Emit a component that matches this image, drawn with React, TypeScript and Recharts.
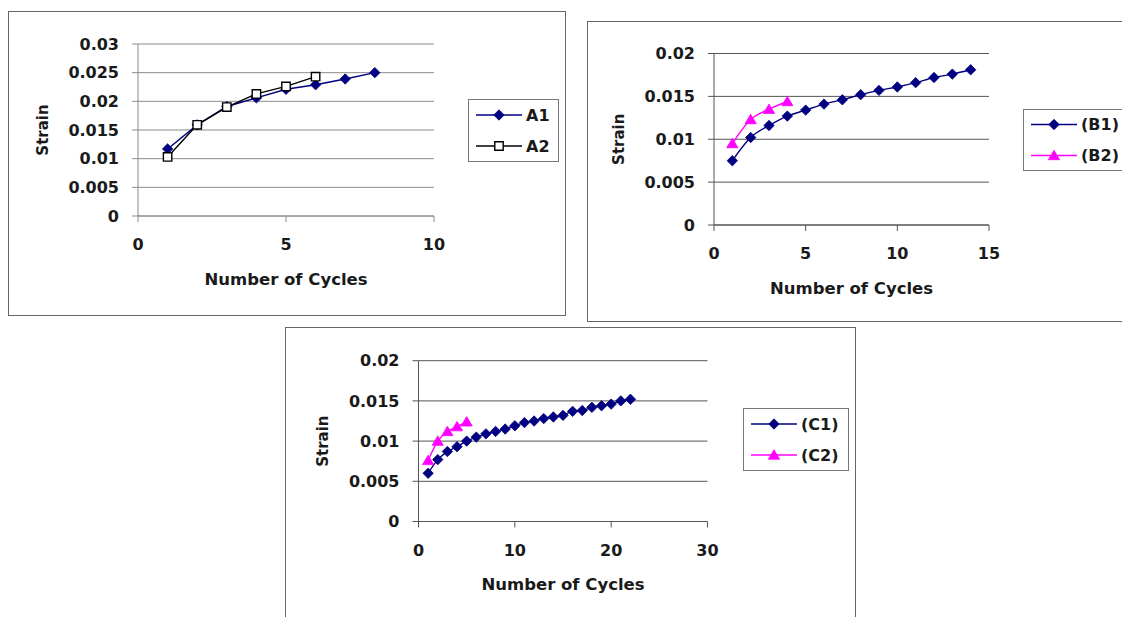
import React from 'react';
import { LineChart, Line, XAxis, YAxis, CartesianGrid, Legend, Label } from 'recharts';

const FONT = '"DejaVu Sans", "Liberation Sans", sans-serif';

// ---------- Chart A ----------
const cyclesA1 = [1, 2, 3, 4, 5, 6, 7, 8];
const strainA1 = [0.0117, 0.0159, 0.0191, 0.0206, 0.0221, 0.0229, 0.0239, 0.025];
const cyclesA2 = [1, 2, 3, 4, 5, 6];
const strainA2 = [0.0103, 0.0159, 0.019, 0.0213, 0.0226, 0.0243];
const xTicksA = [0, 5, 10];
const yTicksA = [0, 0.005, 0.01, 0.015, 0.02, 0.025, 0.03];

// ---------- Chart B ----------
const cyclesB1 = [1, 2, 3, 4, 5, 6, 7, 8, 9, 10, 11, 12, 13, 14];
const strainB1 = [0.0075, 0.0102, 0.0116, 0.0127, 0.0134, 0.0141, 0.0146, 0.0152, 0.0157, 0.0161, 0.0166, 0.0172, 0.0176, 0.0181];
const cyclesB2 = [1, 2, 3, 4];
const strainB2 = [0.0095, 0.0123, 0.0135, 0.0144];
const xTicksB = [0, 5, 10, 15];
const yTicksB = [0, 0.005, 0.01, 0.015, 0.02];

// ---------- Chart C ----------
const cyclesC1 = [1, 2, 3, 4, 5, 6, 7, 8, 9, 10, 11, 12, 13, 14, 15, 16, 17, 18, 19, 20, 21, 22];
const strainC1 = [0.006, 0.0077, 0.0087, 0.0093, 0.01, 0.0105, 0.0109, 0.0112, 0.0115, 0.0119, 0.0123, 0.0125, 0.0128, 0.013, 0.0132, 0.0137, 0.0138, 0.0142, 0.0144, 0.0146, 0.015, 0.0152];
const cyclesC2 = [1, 2, 3, 4, 5];
const strainC2 = [0.0076, 0.01, 0.0112, 0.0118, 0.0124];
const xTicksC = [0, 10, 20, 30];
const yTicksC = [0, 0.005, 0.01, 0.015, 0.02];

const NAVY = '#000080';
const MAGENTA = '#ff00ff';

type MarkerKind = 'diamond' | 'square' | 'triangle';
type Series = { name: string; xs: number[]; ys: number[]; color: string; marker: MarkerKind; curve: 'linear' | 'monotone' };
type Rect = { l: number; t: number; r: number; b: number };
type Cfg = {
  id: string;
  box: Rect;
  plot: Rect;
  xDomain: [number, number];
  xTicks: number[];
  yDomain: [number, number];
  yTicks: number[];
  series: Series[];
  legend: { l: number; t: number; w: number; h: number };
  gridColor: string;
  axisColor: string;
};

const toData = (xs: number[], ys: number[]) => xs.map((x, i) => ({ x, y: ys[i] }));

function markerEl(kind: MarkerKind, cx: number, cy: number, color: string, key?: string) {
  if (kind === 'diamond') {
    const r = 5.2;
    return <path key={key} d={`M${cx},${cy - r}L${cx + r},${cy}L${cx},${cy + r}L${cx - r},${cy}Z`} fill={color} stroke={color} strokeWidth={0.8} />;
  }
  if (kind === 'square') {
    const s = 4.2;
    return <path key={key} d={`M${cx - s},${cy - s}H${cx + s}V${cy + s}H${cx - s}Z`} fill="#ffffff" stroke="#000000" strokeWidth={1.4} />;
  }
  return <path key={key} d={`M${cx},${cy - 5.2}L${cx + 5.6},${cy + 4.2}L${cx - 5.6},${cy + 4.2}Z`} fill={color} stroke={color} strokeWidth={0.8} />;
}

const makeDot = (s: Series) => (p: any) => {
  const { cx, cy, index } = p;
  if (cx == null || cy == null || isNaN(cx) || isNaN(cy)) return <g key={`${s.name}-e-${index}`} />;
  return markerEl(s.marker, cx, cy, s.color, `${s.name}-${index}`);
};

const cfgA: Cfg = {
  id: 'A',
  box: { l: 8, t: 11, r: 566, b: 316 },
  plot: { l: 138, t: 44, r: 434, b: 216 },
  xDomain: [0, 10],
  xTicks: xTicksA,
  yDomain: [0, 0.03],
  yTicks: yTicksA,
  series: [
    { name: 'A1', xs: cyclesA1, ys: strainA1, color: NAVY, marker: 'diamond', curve: 'linear' },
    { name: 'A2', xs: cyclesA2, ys: strainA2, color: '#000000', marker: 'square', curve: 'linear' },
  ],
  legend: { l: 468, t: 99, w: 91, h: 63 },
  gridColor: '#8c8c8c',
  axisColor: '#8c8c8c',
};

const cfgB: Cfg = {
  id: 'B',
  box: { l: 587, t: 21, r: 1140, b: 322 },
  plot: { l: 714, t: 53.5, r: 989, b: 225 },
  xDomain: [0, 15],
  xTicks: xTicksB,
  yDomain: [0, 0.02],
  yTicks: yTicksB,
  series: [
    { name: '(B1)', xs: cyclesB1, ys: strainB1, color: NAVY, marker: 'diamond', curve: 'monotone' },
    { name: '(B2)', xs: cyclesB2, ys: strainB2, color: MAGENTA, marker: 'triangle', curve: 'monotone' },
  ],
  legend: { l: 1023, t: 109, w: 116, h: 62 },
  gridColor: '#555555',
  axisColor: '#555555',
};

const cfgC: Cfg = {
  id: 'C',
  box: { l: 285, t: 327, r: 856, b: 630 },
  plot: { l: 418.5, t: 360.7, r: 707.5, b: 521.5 },
  xDomain: [0, 30],
  xTicks: xTicksC,
  yDomain: [0, 0.02],
  yTicks: yTicksC,
  series: [
    { name: '(C1)', xs: cyclesC1, ys: strainC1, color: NAVY, marker: 'diamond', curve: 'monotone' },
    { name: '(C2)', xs: cyclesC2, ys: strainC2, color: MAGENTA, marker: 'triangle', curve: 'monotone' },
  ],
  legend: { l: 743, t: 408, w: 106, h: 63 },
  gridColor: '#555555',
  axisColor: '#555555',
};

const LegendBox = ({ cfg }: { cfg: Cfg }) => {
  const { w, h } = cfg.legend;
  const mid = (h - 2) / 2;
  const rows = [mid - 15.5, mid + 15.5];
  return (
    <div style={{ width: w, height: h, border: '1px solid #777', background: '#fff', boxSizing: 'border-box' }}>
      <svg width={w - 2} height={h - 2} style={{ display: 'block' }}>
        {cfg.series.map((s, i) => (
          <g key={s.name}>
            <line x1={7} x2={53} y1={rows[i]} y2={rows[i]} stroke={s.color} strokeWidth={1.4} />
            {markerEl(s.marker, 30, rows[i], s.color)}
            <text x={57} y={rows[i]} dominantBaseline="central" fontFamily={FONT} fontWeight="bold" fontSize={16} fill="#1a1a1a">
              {s.name}
            </text>
          </g>
        ))}
      </svg>
    </div>
  );
};

const Panel = ({ cfg }: { cfg: Cfg }) => {
  const { box, plot } = cfg;
  const ox = box.l + 1;
  const oy = box.t + 1;
  const W = box.r - box.l - 2;
  const H = box.b - box.t - 2;
  const YW = 60;
  const XH = 30;
  const margin = {
    left: plot.l - ox - YW,
    top: plot.t - oy,
    right: W - (plot.r - ox),
    bottom: H - (plot.b - oy) - XH,
  };
  const strainX = plot.l - ox - 95;
  const strainY = (plot.t + plot.b) / 2 - oy;
  const titleX = (plot.l + plot.r) / 2 - ox;
  const titleY = plot.b - oy + 63;
  const tickStyle = { fill: '#1a1a1a', fontSize: 16, fontWeight: 'bold', fontFamily: FONT };
  return (
    <div
      style={{
        position: 'absolute',
        left: box.l,
        top: box.t,
        width: box.r - box.l,
        height: box.b - box.t,
        border: '1px solid #666',
        boxSizing: 'border-box',
        background: '#fff',
      }}
    >
      <LineChart width={W} height={H} margin={margin}>
        <CartesianGrid vertical={false} stroke={cfg.gridColor} strokeWidth={1} />
        <XAxis
          type="number"
          dataKey="x"
          domain={cfg.xDomain}
          ticks={cfg.xTicks}
          interval={0}
          allowDataOverflow
          height={XH}
          stroke={cfg.axisColor}
          tickSize={6}
          tickMargin={17}
          tick={tickStyle}
        >
          <Label
            content={() => (
              <text x={titleX} y={titleY} textAnchor="middle" dominantBaseline="central" fontFamily={FONT} fontWeight="bold" fontSize={16.5} fill="#1a1a1a">
                Number of Cycles
              </text>
            )}
          />
        </XAxis>
        <YAxis
          type="number"
          domain={cfg.yDomain}
          ticks={cfg.yTicks}
          interval={0}
          allowDataOverflow
          width={YW}
          stroke={cfg.axisColor}
          tickSize={6}
          tickMargin={13}
          tick={tickStyle}
          tickFormatter={(v: number) => String(v)}
        >
          <Label
            content={() => (
              <text
                x={strainX}
                y={strainY}
                textAnchor="middle"
                dominantBaseline="central"
                transform={`rotate(-90 ${strainX} ${strainY})`}
                fontFamily={FONT}
                fontWeight="bold"
                fontSize={15}
                fill="#1a1a1a"
              >
                Strain
              </text>
            )}
          />
        </YAxis>
        {cfg.series.map((s) => (
          <Line
            key={s.name}
            name={s.name}
            data={toData(s.xs, s.ys)}
            dataKey="y"
            type={s.curve}
            stroke={s.color}
            strokeWidth={1.4}
            dot={makeDot(s)}
            activeDot={false}
            isAnimationActive={false}
          />
        ))}
        <Legend
          layout="vertical"
          align="center"
          verticalAlign="middle"
          wrapperStyle={{ left: cfg.legend.l - ox, top: cfg.legend.t - oy, width: cfg.legend.w, height: cfg.legend.h, margin: 0 }}
          content={() => <LegendBox cfg={cfg} />}
        />
      </LineChart>
    </div>
  );
};

export default function App() {
  return (
    <div style={{ position: 'absolute', left: 0, top: 0, width: 1122, height: 617, overflow: 'hidden', background: '#fff' }}>
      <Panel cfg={cfgA} />
      <Panel cfg={cfgB} />
      <Panel cfg={cfgC} />
    </div>
  );
}
